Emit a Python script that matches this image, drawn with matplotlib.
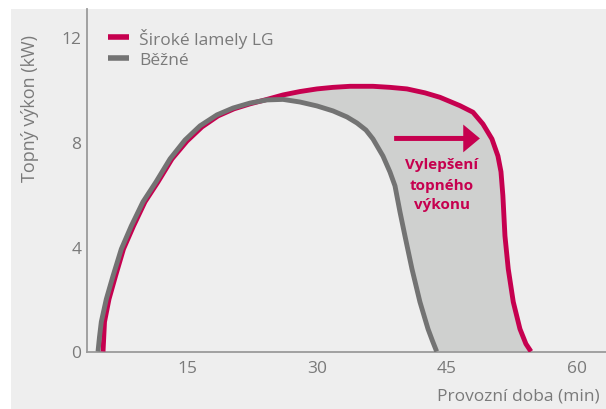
import numpy as np
import matplotlib
matplotlib.use("Agg")
import matplotlib.pyplot as plt
from matplotlib.patches import Rectangle

# --- data (minutes, kW) ---
lg_time = [5.31, 5.48, 6.00, 6.75, 7.67, 8.83, 10.15, 11.65, 13.27, 15.00,
           16.73, 18.58, 20.42, 22.27, 24.23, 26.08, 28.04, 30.00, 31.85,
           33.81, 36.46, 38.42, 40.38, 42.46, 44.19, 46.50, 48.00, 49.15,
           50.19, 50.88, 51.23, 51.45, 51.69, 52.07, 52.65, 53.42, 54.11,
           54.69]
lg_power = [0.0, 1.13, 2.00, 2.88, 3.91, 4.79, 5.71, 6.47, 7.35, 8.03,
            8.57, 8.99, 9.26, 9.45, 9.62, 9.79, 9.92, 10.02, 10.08,
            10.12, 10.12, 10.08, 10.02, 9.87, 9.70, 9.38, 9.13, 8.68,
            8.11, 7.46, 6.86, 5.95, 4.41, 3.15, 1.89, 0.86, 0.29,
            0.0]

std_time = [4.73, 4.90, 5.11, 5.69, 6.46, 7.42, 8.57, 9.92, 11.42, 13.04, 14.77,
            16.50, 18.46, 20.31, 22.27, 24.23, 26.08, 28.04, 30.00, 31.85,
            33.46, 34.61, 35.65, 36.46, 37.61, 38.42, 39.00, 39.58, 40.15,
            40.96, 41.88, 42.81, 43.33, 43.81]
std_power = [0.0, 0.55, 1.13, 2.00, 2.88, 3.91, 4.79, 5.71, 6.47, 7.35, 8.07,
             8.61, 9.03, 9.29, 9.48, 9.60, 9.62, 9.52, 9.37, 9.18,
             8.95, 8.72, 8.45, 8.11, 7.46, 6.85, 6.32, 5.32, 4.41,
             3.15, 1.89, 0.86, 0.40, 0.0]

labels = ["Široké lamely LG", "Běžné"]
note_lines = ["Vylepšení", "topného", "výkonu"]
xticks = [15, 30, 45, 60]
yticks = [0, 4, 8, 12]

RED = "#c6004f"
GREY = "#737373"
FILL = "#cfd0cf"
BG = "#eeeeee"
TXT = "#7a7a7a"

plt.rcParams['font.family'] = ['Open Sans', 'DejaVu Sans']

fig = plt.figure(figsize=(6.06, 4.10), dpi=100)
fig.patch.set_facecolor("white")
fig.patches.append(Rectangle((11 / 606, 0), 1, 1 - 10 / 410, transform=fig.transFigure,
                             facecolor=BG, edgecolor="none", zorder=-5))

ax = fig.add_axes([87 / 606, 57 / 410, 1 - 87 / 606, (353 - 10) / 410])
ax.set_facecolor(BG)

# shaded improvement area between the curves (after they cross)
lx = np.array(lg_time); ly = np.array(lg_power)
sx = np.array(std_time); sy = np.array(std_power)
m1 = lx >= 24.2
m2 = sx >= 24.2
ax.fill(np.concatenate([lx[m1], sx[m2][::-1]]),
        np.concatenate([ly[m1], sy[m2][::-1]]),
        color=FILL, lw=0, zorder=1)

ax.plot(lg_time, lg_power, color=RED, lw=3.5, solid_capstyle="butt",
        solid_joinstyle="round", label=labels[0], zorder=3)
ax.plot(std_time, std_power, color=GREY, lw=3.5, solid_capstyle="butt",
        solid_joinstyle="round", label=labels[1], zorder=4)

ax.set_xlim(3.46, 63.35)
ax.set_ylim(-0.02, 13.07)
ax.set_xticks(xticks)
ax.set_yticks(yticks)
ax.tick_params(length=0, labelsize=12.5, colors=TXT)
ax.tick_params(axis="y", pad=4)
ax.tick_params(axis="x", pad=6)

for s in ["top", "right"]:
    ax.spines[s].set_visible(False)
for s in ["left", "bottom"]:
    ax.spines[s].set_color("#9a9a9a")
    ax.spines[s].set_linewidth(1.3)

leg = ax.legend(loc="upper left", bbox_to_anchor=(0.04, 0.946), frameon=False,
                fontsize=12.5, handlelength=1.25, handletextpad=0.55,
                labelspacing=0.25, borderpad=0, borderaxespad=0)
for t in leg.get_texts():
    t.set_color(TXT)
for h in leg.get_lines():
    h.set_linewidth(4)

# arrow + annotation
ax.annotate("", xy=(48.8, 8.13), xytext=(38.9, 8.13),
            arrowprops=dict(arrowstyle="simple,head_length=1.2,head_width=2.0,tail_width=0.36",
                            color=RED, lw=0, shrinkA=0, shrinkB=0), zorder=5)
for txt, yy in zip(note_lines, [7.00, 6.20, 5.48]):
    ax.text(44.42, yy, txt, color=RED, fontsize=11, fontweight="bold",
            ha="center", va="baseline", zorder=5)

fig.text(30 / 606, 1 - 109 / 410, "Topný výkon (kW)", rotation=90, ha="center",
         va="center", fontsize=13, color=TXT)
fig.text(600 / 606, 1 - 397 / 410, "Provozní doba (min)", ha="right",
         va="center", fontsize=12.5, color=TXT)

fig.savefig("out.png", dpi=100, facecolor=fig.get_facecolor())
